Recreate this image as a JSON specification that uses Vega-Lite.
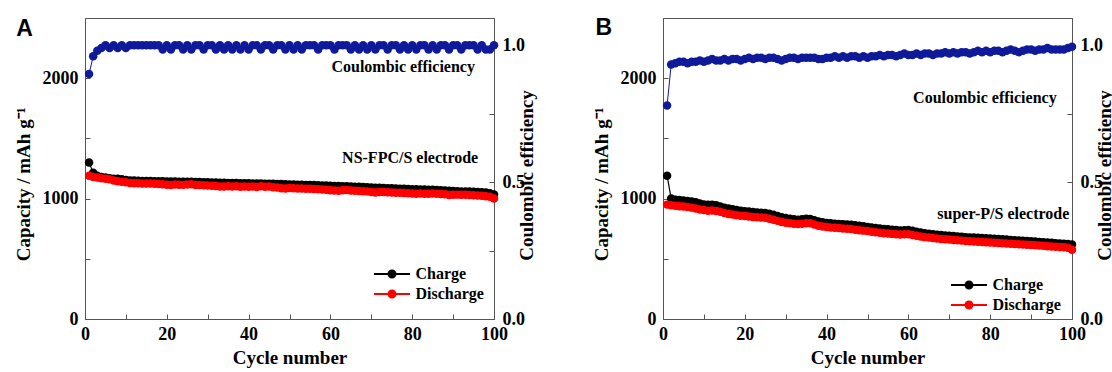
{
  "$schema": "https://vega.github.io/schema/vega-lite/v6.json",
  "padding": {"left": 13, "top": 16, "right": 0, "bottom": 0},
  "background": "white",
  "config": {
    "view": {"stroke": "#555", "strokeWidth": 1},
    "font": "Liberation Serif",
    "axis": {
      "grid": false,
      "domainColor": "#555",
      "tickColor": "#555",
      "tickSize": -5,
      "labelFont": "Liberation Serif",
      "labelFontWeight": "bold",
      "labelFontSize": 18,
      "labelColor": "black",
      "labelFlush": false,
      "labelOverlap": false,
      "titleFont": "Liberation Serif",
      "titleFontWeight": "bold",
      "titleFontSize": 19,
      "titleColor": "black"
    },
    "legend": {
      "labelFont": "Liberation Serif",
      "labelFontWeight": "bold",
      "labelFontSize": 16,
      "labelColor": "black",
      "symbolType": "M-3.8,-0.2H3.8V0.2H-3.8Z M0.95,0A0.95,0.95 0 1,1 -0.95,0A0.95,0.95 0 1,1 0.95,0Z",
      "symbolSize": 90,
      "symbolStrokeWidth": 0,
      "labelOffset": 15.5,
      "rowPadding": 4,
      "padding": 0
    }
  },
  "datasets": {
    "A": [
      {"c":1,"ch":1300,"dis":1190,"ce":0.895},{"c":2,"ch":1215,"dis":1180,"ce":0.96},{"c":3,"ch":1190,"dis":1175,"ce":0.98},{"c":4,"ch":1180,"dis":1170,"ce":0.99},{"c":5,"ch":1175,"dis":1165,"ce":1.0},
      {"c":6,"ch":1170,"dis":1160,"ce":0.99},{"c":7,"ch":1165,"dis":1150,"ce":1.0},{"c":8,"ch":1165,"dis":1145,"ce":0.99},{"c":9,"ch":1160,"dis":1140,"ce":1.0},{"c":10,"ch":1155,"dis":1135,"ce":0.99},
      {"c":11,"ch":1150,"dis":1130,"ce":1.0},{"c":12,"ch":1150,"dis":1128,"ce":1.0},{"c":13,"ch":1148,"dis":1127,"ce":1.0},{"c":14,"ch":1147,"dis":1126,"ce":1.0},{"c":15,"ch":1147,"dis":1126,"ce":1.0},
      {"c":16,"ch":1146,"dis":1125,"ce":1.0},{"c":17,"ch":1145,"dis":1124,"ce":1.0},{"c":18,"ch":1145,"dis":1122,"ce":1.0},{"c":19,"ch":1144,"dis":1120,"ce":0.985},{"c":20,"ch":1143,"dis":1115,"ce":1.0},
      {"c":21,"ch":1142,"dis":1113,"ce":0.985},{"c":22,"ch":1142,"dis":1118,"ce":1.0},{"c":23,"ch":1141,"dis":1116,"ce":1.0},{"c":24,"ch":1141,"dis":1114,"ce":0.985},{"c":25,"ch":1140,"dis":1118,"ce":1.0},
      {"c":26,"ch":1139,"dis":1120,"ce":0.985},{"c":27,"ch":1138,"dis":1113,"ce":1.0},{"c":28,"ch":1137,"dis":1112,"ce":1.0},{"c":29,"ch":1136,"dis":1110,"ce":0.985},{"c":30,"ch":1135,"dis":1108,"ce":1.0},
      {"c":31,"ch":1134,"dis":1106,"ce":1.0},{"c":32,"ch":1133,"dis":1104,"ce":0.985},{"c":33,"ch":1132,"dis":1100,"ce":1.0},{"c":34,"ch":1131,"dis":1101,"ce":0.985},{"c":35,"ch":1130,"dis":1103,"ce":1.0},
      {"c":36,"ch":1130,"dis":1100,"ce":0.985},{"c":37,"ch":1129,"dis":1102,"ce":1.0},{"c":38,"ch":1128,"dis":1099,"ce":0.985},{"c":39,"ch":1128,"dis":1100,"ce":1.0},{"c":40,"ch":1127,"dis":1098,"ce":0.985},
      {"c":41,"ch":1126,"dis":1100,"ce":1.0},{"c":42,"ch":1125,"dis":1097,"ce":1.0},{"c":43,"ch":1125,"dis":1102,"ce":0.985},{"c":44,"ch":1124,"dis":1099,"ce":1.0},{"c":45,"ch":1124,"dis":1100,"ce":1.0},
      {"c":46,"ch":1123,"dis":1095,"ce":0.985},{"c":47,"ch":1122,"dis":1092,"ce":1.0},{"c":48,"ch":1121,"dis":1085,"ce":1.0},{"c":49,"ch":1120,"dis":1083,"ce":0.985},{"c":50,"ch":1118,"dis":1088,"ce":1.0},
      {"c":51,"ch":1117,"dis":1086,"ce":0.985},{"c":52,"ch":1116,"dis":1084,"ce":1.0},{"c":53,"ch":1115,"dis":1083,"ce":0.985},{"c":54,"ch":1114,"dis":1082,"ce":1.0},{"c":55,"ch":1113,"dis":1081,"ce":1.0},
      {"c":56,"ch":1112,"dis":1080,"ce":1.0},{"c":57,"ch":1110,"dis":1078,"ce":0.985},{"c":58,"ch":1109,"dis":1076,"ce":1.0},{"c":59,"ch":1108,"dis":1073,"ce":1.0},{"c":60,"ch":1106,"dis":1070,"ce":1.0},
      {"c":61,"ch":1105,"dis":1068,"ce":0.985},{"c":62,"ch":1104,"dis":1066,"ce":1.0},{"c":63,"ch":1103,"dis":1070,"ce":1.0},{"c":64,"ch":1102,"dis":1072,"ce":1.0},{"c":65,"ch":1100,"dis":1068,"ce":0.985},
      {"c":66,"ch":1099,"dis":1066,"ce":1.0},{"c":67,"ch":1098,"dis":1064,"ce":0.985},{"c":68,"ch":1096,"dis":1062,"ce":1.0},{"c":69,"ch":1095,"dis":1060,"ce":0.985},{"c":70,"ch":1093,"dis":1055,"ce":1.0},
      {"c":71,"ch":1091,"dis":1050,"ce":0.985},{"c":72,"ch":1090,"dis":1055,"ce":1.0},{"c":73,"ch":1088,"dis":1054,"ce":1.0},{"c":74,"ch":1087,"dis":1053,"ce":0.985},{"c":75,"ch":1085,"dis":1050,"ce":1.0},
      {"c":76,"ch":1084,"dis":1049,"ce":1.0},{"c":77,"ch":1082,"dis":1048,"ce":0.985},{"c":78,"ch":1081,"dis":1046,"ce":1.0},{"c":79,"ch":1080,"dis":1044,"ce":0.985},{"c":80,"ch":1078,"dis":1042,"ce":1.0},
      {"c":81,"ch":1077,"dis":1040,"ce":0.985},{"c":82,"ch":1076,"dis":1042,"ce":1.0},{"c":83,"ch":1075,"dis":1041,"ce":1.0},{"c":84,"ch":1074,"dis":1040,"ce":0.985},{"c":85,"ch":1073,"dis":1042,"ce":1.0},
      {"c":86,"ch":1072,"dis":1040,"ce":0.985},{"c":87,"ch":1070,"dis":1038,"ce":1.0},{"c":88,"ch":1068,"dis":1036,"ce":1.0},{"c":89,"ch":1066,"dis":1030,"ce":0.985},{"c":90,"ch":1064,"dis":1032,"ce":1.0},
      {"c":91,"ch":1062,"dis":1033,"ce":1.0},{"c":92,"ch":1060,"dis":1032,"ce":0.985},{"c":93,"ch":1059,"dis":1031,"ce":1.0},{"c":94,"ch":1058,"dis":1030,"ce":1.0},{"c":95,"ch":1056,"dis":1028,"ce":1.0},
      {"c":96,"ch":1054,"dis":1025,"ce":0.985},{"c":97,"ch":1052,"dis":1023,"ce":1.0},{"c":98,"ch":1050,"dis":1020,"ce":0.985},{"c":99,"ch":1045,"dis":1015,"ce":0.985},{"c":100,"ch":1035,"dis":1000,"ce":1.0}
    ],
    "B": [
      {"c":1,"ch":1190,"dis":950,"ce":0.78},{"c":2,"ch":1000,"dis":945,"ce":0.93},{"c":3,"ch":990,"dis":940,"ce":0.935},{"c":4,"ch":988,"dis":937,"ce":0.94},{"c":5,"ch":985,"dis":935,"ce":0.94},
      {"c":6,"ch":980,"dis":930,"ce":0.935},{"c":7,"ch":975,"dis":925,"ce":0.94},{"c":8,"ch":970,"dis":918,"ce":0.94},{"c":9,"ch":960,"dis":910,"ce":0.945},{"c":10,"ch":952,"dis":905,"ce":0.94},
      {"c":11,"ch":948,"dis":900,"ce":0.945},{"c":12,"ch":950,"dis":902,"ce":0.95},{"c":13,"ch":945,"dis":897,"ce":0.945},{"c":14,"ch":935,"dis":890,"ce":0.945},{"c":15,"ch":925,"dis":880,"ce":0.95},
      {"c":16,"ch":918,"dis":873,"ce":0.945},{"c":17,"ch":912,"dis":868,"ce":0.95},{"c":18,"ch":905,"dis":862,"ce":0.95},{"c":19,"ch":900,"dis":858,"ce":0.945},{"c":20,"ch":895,"dis":855,"ce":0.95},
      {"c":21,"ch":892,"dis":852,"ce":0.955},{"c":22,"ch":888,"dis":848,"ce":0.95},{"c":23,"ch":885,"dis":845,"ce":0.955},{"c":24,"ch":882,"dis":843,"ce":0.955},{"c":25,"ch":880,"dis":840,"ce":0.95},
      {"c":26,"ch":874,"dis":832,"ce":0.955},{"c":27,"ch":866,"dis":825,"ce":0.955},{"c":28,"ch":856,"dis":815,"ce":0.95},{"c":29,"ch":846,"dis":806,"ce":0.945},{"c":30,"ch":838,"dis":800,"ce":0.95},
      {"c":31,"ch":832,"dis":795,"ce":0.955},{"c":32,"ch":828,"dis":792,"ce":0.955},{"c":33,"ch":825,"dis":790,"ce":0.95},{"c":34,"ch":828,"dis":792,"ce":0.955},{"c":35,"ch":832,"dis":795,"ce":0.955},
      {"c":36,"ch":830,"dis":796,"ce":0.955},{"c":37,"ch":820,"dis":785,"ce":0.955},{"c":38,"ch":810,"dis":775,"ce":0.95},{"c":39,"ch":803,"dis":768,"ce":0.95},{"c":40,"ch":798,"dis":764,"ce":0.955},
      {"c":41,"ch":795,"dis":760,"ce":0.955},{"c":42,"ch":792,"dis":757,"ce":0.96},{"c":43,"ch":790,"dis":755,"ce":0.955},{"c":44,"ch":787,"dis":752,"ce":0.96},{"c":45,"ch":785,"dis":750,"ce":0.955},
      {"c":46,"ch":782,"dis":747,"ce":0.96},{"c":47,"ch":778,"dis":742,"ce":0.96},{"c":48,"ch":774,"dis":738,"ce":0.955},{"c":49,"ch":770,"dis":734,"ce":0.96},{"c":50,"ch":765,"dis":730,"ce":0.955},
      {"c":51,"ch":760,"dis":725,"ce":0.96},{"c":52,"ch":756,"dis":721,"ce":0.96},{"c":53,"ch":752,"dis":717,"ce":0.965},{"c":54,"ch":748,"dis":713,"ce":0.96},{"c":55,"ch":745,"dis":710,"ce":0.965},
      {"c":56,"ch":742,"dis":707,"ce":0.965},{"c":57,"ch":739,"dis":704,"ce":0.96},{"c":58,"ch":736,"dis":702,"ce":0.965},{"c":59,"ch":738,"dis":703,"ce":0.97},{"c":60,"ch":740,"dis":704,"ce":0.965},
      {"c":61,"ch":732,"dis":698,"ce":0.965},{"c":62,"ch":725,"dis":692,"ce":0.97},{"c":63,"ch":718,"dis":686,"ce":0.965},{"c":64,"ch":712,"dis":680,"ce":0.97},{"c":65,"ch":708,"dis":676,"ce":0.97},
      {"c":66,"ch":704,"dis":672,"ce":0.965},{"c":67,"ch":700,"dis":668,"ce":0.97},{"c":68,"ch":697,"dis":665,"ce":0.97},{"c":69,"ch":694,"dis":662,"ce":0.975},{"c":70,"ch":692,"dis":660,"ce":0.97},
      {"c":71,"ch":689,"dis":657,"ce":0.975},{"c":72,"ch":686,"dis":654,"ce":0.97},{"c":73,"ch":683,"dis":651,"ce":0.975},{"c":74,"ch":680,"dis":648,"ce":0.975},{"c":75,"ch":678,"dis":646,"ce":0.97},
      {"c":76,"ch":676,"dis":644,"ce":0.975},{"c":77,"ch":674,"dis":642,"ce":0.98},{"c":78,"ch":672,"dis":640,"ce":0.975},{"c":79,"ch":670,"dis":638,"ce":0.98},{"c":80,"ch":668,"dis":636,"ce":0.975},
      {"c":81,"ch":666,"dis":634,"ce":0.98},{"c":82,"ch":664,"dis":632,"ce":0.98},{"c":83,"ch":662,"dis":630,"ce":0.975},{"c":84,"ch":660,"dis":628,"ce":0.98},{"c":85,"ch":657,"dis":625,"ce":0.985},
      {"c":86,"ch":655,"dis":623,"ce":0.98},{"c":87,"ch":652,"dis":620,"ce":0.975},{"c":88,"ch":650,"dis":618,"ce":0.98},{"c":89,"ch":648,"dis":616,"ce":0.985},{"c":90,"ch":646,"dis":614,"ce":0.985},
      {"c":91,"ch":643,"dis":612,"ce":0.98},{"c":92,"ch":640,"dis":610,"ce":0.985},{"c":93,"ch":638,"dis":608,"ce":0.985},{"c":94,"ch":635,"dis":605,"ce":0.99},{"c":95,"ch":633,"dis":603,"ce":0.985},
      {"c":96,"ch":630,"dis":600,"ce":0.985},{"c":97,"ch":628,"dis":598,"ce":0.985},{"c":98,"ch":625,"dis":595,"ce":0.985},{"c":99,"ch":622,"dis":592,"ce":0.99},{"c":100,"ch":618,"dis":575,"ce":0.995}
    ],
    "textA": [{"x":77.8,"y":2092,"t":"Coulombic efficiency"},{"x":79.5,"y":1336,"t":"NS-FPC/S electrode"}],
    "textB": [{"x":78.7,"y":1834,"t":"Coulombic efficiency"},{"x":83.2,"y":871,"t":"super-P/S electrode"}],
    "letterA": [{"x":-14.8,"y":2411,"t":"A"}],
    "letterB": [{"x":-14.5,"y":2419,"t":"B"}]
  },
  "resolve": {"scale": {"color": "independent"}, "legend": {"color": "independent"}},
  "spacing": 54,
  "hconcat": [
    {
      "width": 409, "height": 301,
      "resolve": {"scale": {"y": "independent"}},
      "encoding": {
        "x": {"field": "c", "type": "quantitative", "scale": {"domain": [0, 100], "nice": false},
              "axis": {"title": "Cycle number", "values": [0,10,20,30,40,50,60,70,80,90,100], "labelExpr": "datum.value % 20 === 0 ? datum.label : ''", "labelFont": "Liberation Serif", "titleFont": "Liberation Serif", "labelPadding": 11, "titleY": 44, "titleBaseline": "alphabetic"}}
      },
      "layer": [
        {"data": {"name": "A"}, "mark": {"type": "line", "color": "black", "strokeWidth": 1.2},
         "encoding": {
           "y": {"field": "ch", "type": "quantitative", "scale": {"domain": [0, 2500], "nice": false},
                 "axis": {"orient": "left", "title": "Capacity / mAh g⁻¹", "values": [0,500,1000,1500,2000], "format": "d", "labelExpr": "datum.value % 1000 === 0 ? datum.label : ''", "labelFont": "Liberation Serif", "titleFont": "Liberation Serif", "labelPadding": 12, "titleAngle": -90, "titleX": -56, "titleY": 166, "titleBaseline": "alphabetic", "titleAlign": "center"}}
         }},
        {"data": {"name": "A"}, "mark": {"type": "point", "filled": true, "size": 72, "opacity": 1},
         "encoding": {
           "y": {"field": "ch", "type": "quantitative", "scale": {"domain": [0, 2500], "nice": false}, "axis": null},
           "color": {"datum": "Charge", "type": "nominal", "scale": {"domain": ["Charge", "Discharge"], "range": ["black", "red"]},
                     "legend": {"title": null, "orient": "none", "legendX": 299, "legendY": 248}}
         }},
        {"data": {"name": "A"}, "mark": {"type": "line", "color": "red", "strokeWidth": 1.2},
         "encoding": {
           "y": {"field": "dis", "type": "quantitative", "scale": {"domain": [0, 2500], "nice": false}, "axis": null}
         }},
        {"data": {"name": "A"}, "mark": {"type": "point", "filled": true, "size": 72, "opacity": 1},
         "encoding": {
           "y": {"field": "dis", "type": "quantitative", "scale": {"domain": [0, 2500], "nice": false}, "axis": null},
           "color": {"datum": "Discharge", "type": "nominal", "scale": {"domain": ["Charge", "Discharge"], "range": ["black", "red"]},
                     "legend": {"title": null, "orient": "none", "legendX": 299, "legendY": 248}}
         }},
        {"data": {"name": "A"}, "mark": {"type": "line", "color": "#0f1a9a", "strokeWidth": 1, "point": {"filled": true, "size": 72, "opacity": 1, "color": "#0f1a9a"}},
         "encoding": {
           "y": {"field": "ce", "type": "quantitative", "scale": {"domain": [0, 1.1], "nice": false},
                 "axis": {"orient": "right", "title": "Coulombic efficiency", "values": [0, 0.25, 0.5, 0.75, 1], "format": ".1f", "labelExpr": "(datum.value === 0 || datum.value === 0.5 || datum.value === 1) ? datum.label : ''", "labelFont": "Liberation Serif", "titleFont": "Liberation Serif", "labelPadding": 13, "titleAngle": -90, "titleX": 38, "titleY": 157, "titleBaseline": "alphabetic", "titleAlign": "center"}}
         }},
        {"data": {"name": "textA"}, "mark": {"type": "text", "font": "Liberation Serif", "fontWeight": "bold", "fontSize": 16, "align": "center", "baseline": "middle", "color": "black"},
         "encoding": {
           "x": {"field": "x", "type": "quantitative", "scale": {"domain": [0, 100], "nice": false}, "axis": {"title": "Cycle number", "values": [0,10,20,30,40,50,60,70,80,90,100], "labelExpr": "datum.value % 20 === 0 ? datum.label : ''", "labelFont": "Liberation Serif", "titleFont": "Liberation Serif", "labelPadding": 11, "titleY": 44, "titleBaseline": "alphabetic"}},
           "y": {"field": "y", "type": "quantitative", "scale": {"domain": [0, 2500], "nice": false}, "axis": null},
           "text": {"field": "t"}
         }},
        {"data": {"name": "letterA"}, "mark": {"type": "text", "font": "Liberation Sans", "fontWeight": "bold", "fontSize": 23, "align": "center", "baseline": "middle", "color": "black"},
         "encoding": {
           "x": {"field": "x", "type": "quantitative", "scale": {"domain": [0, 100], "nice": false}, "axis": {"title": "Cycle number", "values": [0,10,20,30,40,50,60,70,80,90,100], "labelExpr": "datum.value % 20 === 0 ? datum.label : ''", "labelFont": "Liberation Serif", "titleFont": "Liberation Serif", "labelPadding": 11, "titleY": 44, "titleBaseline": "alphabetic"}},
           "y": {"field": "y", "type": "quantitative", "scale": {"domain": [0, 2500], "nice": false}, "axis": null},
           "text": {"field": "t"}
         }}
      ]
    },
    {
      "width": 409, "height": 301,
      "resolve": {"scale": {"y": "independent"}},
      "encoding": {
        "x": {"field": "c", "type": "quantitative", "scale": {"domain": [0, 100], "nice": false},
              "axis": {"title": "Cycle number", "values": [0,10,20,30,40,50,60,70,80,90,100], "labelExpr": "datum.value % 20 === 0 ? datum.label : ''", "labelFont": "Liberation Serif", "titleFont": "Liberation Serif", "labelPadding": 11, "titleY": 44, "titleBaseline": "alphabetic"}}
      },
      "layer": [
        {"data": {"name": "B"}, "mark": {"type": "line", "color": "black", "strokeWidth": 1.2},
         "encoding": {
           "y": {"field": "ch", "type": "quantitative", "scale": {"domain": [0, 2500], "nice": false},
                 "axis": {"orient": "left", "title": "Capacity / mAh g⁻¹", "values": [0,500,1000,1500,2000], "format": "d", "labelExpr": "datum.value % 1000 === 0 ? datum.label : ''", "labelFont": "Liberation Serif", "titleFont": "Liberation Serif", "labelPadding": 12, "titleAngle": -90, "titleX": -56, "titleY": 166, "titleBaseline": "alphabetic", "titleAlign": "center"}}
         }},
        {"data": {"name": "B"}, "mark": {"type": "point", "filled": true, "size": 72, "opacity": 1},
         "encoding": {
           "y": {"field": "ch", "type": "quantitative", "scale": {"domain": [0, 2500], "nice": false}, "axis": null},
           "color": {"datum": "Charge", "type": "nominal", "scale": {"domain": ["Charge", "Discharge"], "range": ["black", "red"]},
                     "legend": {"title": null, "orient": "none", "legendX": 298, "legendY": 259}}
         }},
        {"data": {"name": "B"}, "mark": {"type": "line", "color": "red", "strokeWidth": 1.2},
         "encoding": {
           "y": {"field": "dis", "type": "quantitative", "scale": {"domain": [0, 2500], "nice": false}, "axis": null}
         }},
        {"data": {"name": "B"}, "mark": {"type": "point", "filled": true, "size": 72, "opacity": 1},
         "encoding": {
           "y": {"field": "dis", "type": "quantitative", "scale": {"domain": [0, 2500], "nice": false}, "axis": null},
           "color": {"datum": "Discharge", "type": "nominal", "scale": {"domain": ["Charge", "Discharge"], "range": ["black", "red"]},
                     "legend": {"title": null, "orient": "none", "legendX": 298, "legendY": 259}}
         }},
        {"data": {"name": "B"}, "mark": {"type": "line", "color": "#0f1a9a", "strokeWidth": 1, "point": {"filled": true, "size": 72, "opacity": 1, "color": "#0f1a9a"}},
         "encoding": {
           "y": {"field": "ce", "type": "quantitative", "scale": {"domain": [0, 1.1], "nice": false},
                 "axis": {"orient": "right", "title": "Coulombic efficiency", "values": [0, 0.25, 0.5, 0.75, 1], "format": ".1f", "labelExpr": "(datum.value === 0 || datum.value === 0.5 || datum.value === 1) ? datum.label : ''", "labelFont": "Liberation Serif", "titleFont": "Liberation Serif", "labelPadding": 13, "titleAngle": -90, "titleX": 38, "titleY": 157, "titleBaseline": "alphabetic", "titleAlign": "center"}}
         }},
        {"data": {"name": "textB"}, "mark": {"type": "text", "font": "Liberation Serif", "fontWeight": "bold", "fontSize": 16, "align": "center", "baseline": "middle", "color": "black"},
         "encoding": {
           "x": {"field": "x", "type": "quantitative", "scale": {"domain": [0, 100], "nice": false}, "axis": {"title": "Cycle number", "values": [0,10,20,30,40,50,60,70,80,90,100], "labelExpr": "datum.value % 20 === 0 ? datum.label : ''", "labelFont": "Liberation Serif", "titleFont": "Liberation Serif", "labelPadding": 11, "titleY": 44, "titleBaseline": "alphabetic"}},
           "y": {"field": "y", "type": "quantitative", "scale": {"domain": [0, 2500], "nice": false}, "axis": null},
           "text": {"field": "t"}
         }},
        {"data": {"name": "letterB"}, "mark": {"type": "text", "font": "Liberation Sans", "fontWeight": "bold", "fontSize": 23, "align": "center", "baseline": "middle", "color": "black"},
         "encoding": {
           "x": {"field": "x", "type": "quantitative", "scale": {"domain": [0, 100], "nice": false}, "axis": {"title": "Cycle number", "values": [0,10,20,30,40,50,60,70,80,90,100], "labelExpr": "datum.value % 20 === 0 ? datum.label : ''", "labelFont": "Liberation Serif", "titleFont": "Liberation Serif", "labelPadding": 11, "titleY": 44, "titleBaseline": "alphabetic"}},
           "y": {"field": "y", "type": "quantitative", "scale": {"domain": [0, 2500], "nice": false}, "axis": null},
           "text": {"field": "t"}
         }}
      ]
    }
  ]
}
